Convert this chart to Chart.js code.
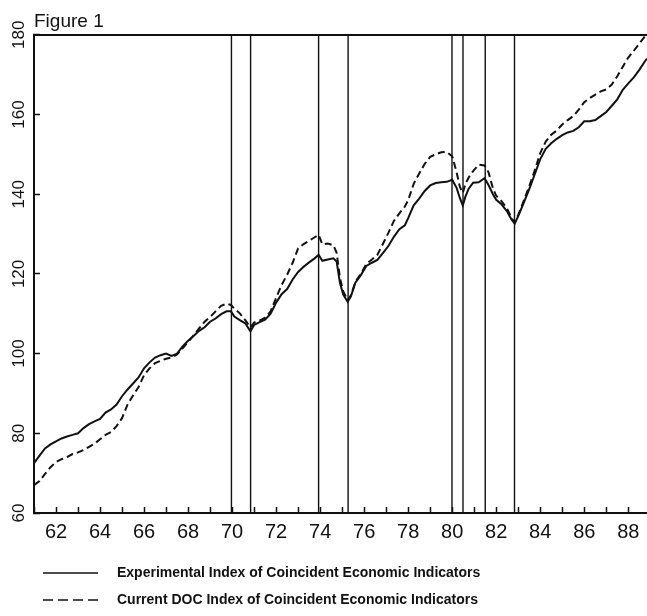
<!DOCTYPE html>
<html lang="en">
<head>
<meta charset="UTF-8">
<title>Figure 1</title>
<script src="https://cdn.jsdelivr.net/npm/chart.js"></script>
<style>
  body { margin: 0; background: #fff; }
  #wrap { width: 647px; height: 616px; }
</style>
</head>
<body>
<div id="wrap"><canvas id="fig1" width="647" height="616"></canvas></div>
<script>
// sample dates (year, 19xx) shared by both series
const years = [
  61.0, 61.25, 61.5, 61.75, 62.0, 62.25, 62.5, 62.75, 63.0, 63.25, 63.5, 63.75,
  64.0, 64.25, 64.5, 64.75, 65.0, 65.25, 65.5, 65.75, 66.0, 66.25, 66.5, 66.75,
  67.0, 67.25, 67.5, 67.75, 68.0, 68.25, 68.5, 68.75, 69.0, 69.25, 69.5, 69.75,
  69.95, 70.1, 70.35, 70.6, 70.83, 71.0, 71.25, 71.5, 71.75, 72.0, 72.25, 72.5,
  72.75, 73.0, 73.25, 73.5, 73.75, 73.93, 74.1, 74.35, 74.6, 74.75, 74.9, 75.05,
  75.25, 75.4, 75.6, 75.85, 76.1, 76.35, 76.6, 76.85, 77.1, 77.35, 77.6, 77.85,
  78.0, 78.25, 78.5, 78.75, 79.0, 79.25, 79.5, 79.75, 80.0, 80.2, 80.35, 80.48,
  80.6, 80.75, 80.95, 81.2, 81.47, 81.65, 81.85, 82.0, 82.25, 82.5, 82.7, 82.84,
  83.0, 83.25, 83.5, 83.75, 84.0, 84.25, 84.5, 84.75, 85.0, 85.25, 85.5, 85.75,
  86.0, 86.25, 86.5, 86.75, 87.0, 87.25, 87.5, 87.75, 88.0, 88.25, 88.5, 88.75, 88.85
];

const experimental = [
  72.5, 74.4, 76.2, 77.2, 78.0, 78.7, 79.2, 79.6, 80.0, 81.3, 82.3, 83.0,
  83.6, 85.2, 86.0, 87.2, 89.3, 91.0, 92.5, 94.0, 96.3, 97.8, 99.0, 99.6,
  100.0, 99.4, 100.0, 101.8, 103.2, 104.4, 105.7, 106.6, 108.0, 108.8, 109.9, 110.6,
  110.6, 109.3, 108.4, 107.6, 105.6, 107.2, 107.9, 108.5, 110.0, 112.8, 114.9, 116.2,
  118.6, 120.5, 121.8, 122.9, 123.9, 124.8, 123.3, 123.6, 123.9, 123.1, 117.7, 114.8,
  113.0, 114.4, 117.8, 119.7, 122.0, 122.8, 123.5, 125.2, 127.0, 129.3, 131.2, 132.2,
  134.0, 137.2, 138.9, 140.8, 142.2, 142.8, 143.0, 143.1, 143.6, 141.6, 139.0, 137.2,
  139.4, 141.4, 142.9, 143.0, 144.0, 142.3, 140.0, 138.6, 137.4, 135.6, 133.6, 132.6,
  134.5, 137.8, 141.3, 145.0, 148.8, 151.4, 152.8, 153.9, 154.8, 155.5, 155.9, 156.8,
  158.3, 158.3, 158.6, 159.6, 160.6, 162.2, 163.8, 166.2, 167.8, 169.3, 171.2, 173.3, 174.0
];

const docIndex = [
  67.0, 68.0, 69.8, 71.5, 72.8, 73.5, 74.0, 74.8, 75.2, 75.8, 76.6, 77.4,
  78.5, 79.6, 80.3, 81.8, 83.8, 87.2, 89.5, 91.6, 94.6, 96.3, 97.6, 98.2,
  98.7, 99.0, 99.8, 101.3, 102.9, 104.6, 106.3, 108.0, 109.2, 110.6, 112.0, 112.5,
  112.2, 111.3, 110.1, 108.4, 106.6, 107.8, 108.3, 109.0, 110.6, 114.0, 117.2, 119.8,
  122.8, 126.4, 127.5, 128.3, 129.2, 129.8, 127.4, 127.6, 127.2, 125.3, 119.0, 115.6,
  113.4, 114.6, 118.0, 120.0, 122.5, 123.6, 124.8, 127.5, 130.3, 133.3, 135.2, 136.9,
  138.5, 142.6, 145.2, 147.6, 149.4, 150.0, 150.5, 150.6, 149.5, 145.5, 141.8, 140.3,
  142.6, 144.2, 145.8, 147.4, 147.2, 145.5, 141.5, 139.6, 138.2, 136.3, 134.0, 132.9,
  134.8, 138.3, 142.0, 146.0, 150.3, 153.2, 154.9, 156.0, 157.5, 158.6, 159.6, 161.2,
  163.1, 164.1, 165.0, 165.8, 166.3, 167.5, 169.6, 172.0, 174.3, 176.0, 177.8, 179.6, 180.0
];

// business cycle peaks and troughs (vertical lines)
const cycleDates = [69.97, 70.84, 73.93, 75.27, 79.99, 80.49, 81.5, 82.83];

const xTickYears = [61, 62, 63, 64, 65, 66, 67, 68, 69, 70, 71, 72, 73, 74, 75,
  76, 77, 78, 79, 80, 81, 82, 83, 84, 85, 86, 87, 88];
const xLabelYears = [62, 64, 66, 68, 70, 72, 74, 76, 78, 80, 82, 84, 86, 88];
const yTicks = [60, 80, 100, 120, 140, 160, 180];

const ink = '#111';

const series = (vals) => years.map((x, i) => ({ x: x, y: vals[i] }));

const datasets = [
  {
    label: 'Experimental Index of Coincident Economic Indicators',
    data: series(experimental),
    borderColor: ink,
    borderWidth: 2,
    pointRadius: 0,
    tension: 0
  },
  {
    label: 'Current DOC Index of Coincident Economic Indicators',
    data: series(docIndex),
    borderColor: ink,
    borderWidth: 2,
    borderDash: [7, 4],
    pointRadius: 0,
    tension: 0
  }
];
cycleDates.forEach(d => {
  datasets.push({
    label: 'cycle',
    data: [{ x: d, y: 60 }, { x: d, y: 180 }],
    borderColor: ink,
    borderWidth: 1.4,
    pointRadius: 0
  });
});

// legend drawn under the plot, solid / dashed samples
const lineKey = {
  id: 'lineKey',
  afterDraw(chart) {
    const ctx = chart.ctx;
    const base = chart.chartArea.bottom + 60;
    const dashes = [[], [10, 5]];
    chart.data.datasets.slice(0, 2).forEach((ds, i) => {
      const y = base + i * 27;
      ctx.save();
      ctx.strokeStyle = ink;
      ctx.lineWidth = 1.6;
      ctx.setLineDash(dashes[i]);
      ctx.beginPath();
      ctx.moveTo(43, y);
      ctx.lineTo(98, y);
      ctx.stroke();
      ctx.setLineDash([]);
      ctx.fillStyle = ink;
      ctx.font = 'bold 14px "Liberation Sans", Arial, sans-serif';
      ctx.textBaseline = 'middle';
      ctx.fillText(ds.label, 117, y);
      ctx.restore();
    });
  }
};

new Chart(document.getElementById('fig1'), {
  type: 'line',
  data: { datasets: datasets },
  plugins: [lineKey],
  options: {
    responsive: false,
    animation: false,
    layout: { padding: { left: 0, right: 0, top: 0, bottom: 60 } },
    plugins: {
      legend: { display: false },
      tooltip: { enabled: false },
      title: {
        display: true,
        text: 'Figure 1',
        align: 'start',
        fullSize: false,
        color: ink,
        font: { family: '"Liberation Sans", Arial, sans-serif', size: 19, weight: 'normal' },
        padding: { top: 10, bottom: 2 }
      }
    },
    scales: {
      x: {
        type: 'linear',
        position: 'bottom',
        min: 61,
        max: 88.85,
        afterFit: s => { s.height = 43; s.paddingLeft = 0; s.paddingRight = 0; },
        afterBuildTicks: s => { s.ticks = xTickYears.map(v => ({ value: v })); },
        border: { display: true, color: ink, width: 2 },
        grid: { drawOnChartArea: false, tickLength: -6, tickWidth: 1.5, tickColor: ink },
        ticks: {
          autoSkip: false,
          maxRotation: 0,
          padding: 13,
          color: ink,
          font: { family: '"Liberation Sans", Arial, sans-serif', size: 20 },
          callback: v => xLabelYears.includes(v) ? String(v) : ''
        }
      },
      x2: {
        type: 'linear',
        position: 'top',
        min: 61,
        max: 88.85,
        afterFit: s => { s.height = 0; s.paddingLeft = 0; s.paddingRight = 0; },
        border: { display: true, color: ink, width: 2 },
        grid: { drawOnChartArea: false, drawTicks: false },
        ticks: { display: false }
      },
      y: {
        min: 60,
        max: 180,
        afterFit: s => { s.width = 34; },
        afterBuildTicks: s => { s.ticks = yTicks.map(v => ({ value: v })); },
        border: { display: true, color: ink, width: 2 },
        grid: { drawOnChartArea: false, tickLength: -6, tickWidth: 1.5, tickColor: ink },
        ticks: {
          autoSkip: false,
          minRotation: 90,
          maxRotation: 90,
          crossAlign: 'center',
          padding: 7,
          color: ink,
          font: { family: '"Liberation Sans", Arial, sans-serif', size: 17 }
        }
      }
    }
  }
});
</script>
</body>
</html>
